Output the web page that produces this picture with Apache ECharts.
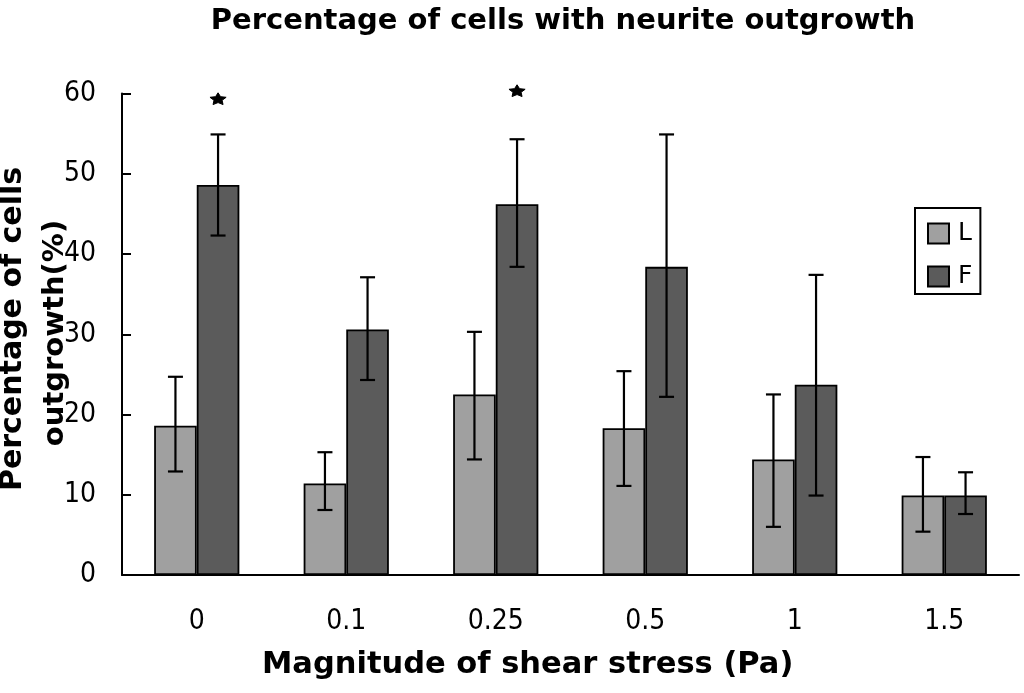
<!DOCTYPE html>
<html>
<head>
<meta charset="utf-8">
<script src="https://cdn.jsdelivr.net/npm/echarts@6/dist/echarts.min.js"></script>
<style>html,body{margin:0;padding:0;background:#fff;}#chart{width:1024px;height:693px;}</style>
</head>
<body>
<div id="chart"></div>
<script>
const categories = ['0', '0.1', '0.25', '0.5', '1', '1.5'];
const lValues = [18.6, 11.4, 22.5, 18.3, 14.4, 9.9];
const lErrTop = [24.7, 15.3, 30.3, 25.4, 22.5, 14.7];
const lErrBottom = [12.9, 8.1, 14.4, 11.1, 6.0, 5.4];
const fValues = [48.6, 30.6, 46.2, 38.4, 23.7, 9.9];
const fErrTop = [54.9, 37.1, 54.3, 54.9, 37.4, 12.8];
const fErrBottom = [42.3, 24.3, 38.4, 22.2, 9.9, 7.6];
const starLevel = [59.4, null, 60.4, null, null, null];
const yTicks = [0, 10, 20, 30, 40, 50, 60];

const GAP = 0.43;
const chart = echarts.init(document.getElementById('chart'));

function errSeries(name, low, high, side) {
  return {
    type: 'custom',
    name: name + '_err',
    silent: true,
    z: 5,
    data: categories.map((c, i) => [i, low[i], high[i]]),
    renderItem: function (params, api) {
      const catW = api.size([1, 0])[0];
      const barW = catW * (1 - GAP) / 2;
      const x = api.coord([api.value(0), 0])[0] + side * barW / 2;
      const yl = api.coord([api.value(0), api.value(1)])[1];
      const yh = api.coord([api.value(0), api.value(2)])[1];
      const cap = 7.5;
      const st = { stroke: '#000', lineWidth: 2.2 };
      return {
        type: 'group',
        children: [
          { type: 'line', shape: { x1: x, y1: yl, x2: x, y2: yh }, style: st },
          { type: 'line', shape: { x1: x - cap, y1: yl, x2: x + cap, y2: yl }, style: st },
          { type: 'line', shape: { x1: x - cap, y1: yh, x2: x + cap, y2: yh }, style: st }
        ]
      };
    }
  };
}

function starPoints(cx, cy, rx, ry, inner) {
  const pts = [];
  for (let k = 0; k < 10; k++) {
    const a = -Math.PI / 2 + k * Math.PI / 5;
    const r = (k % 2 === 0) ? 1 : inner;
    pts.push([cx + rx * r * Math.cos(a), cy + ry * r * Math.sin(a) + 1]);
  }
  return pts;
}

const option = {
  backgroundColor: '#fff',
  animation: false,
  title: {
    text: 'Percentage of cells with neurite outgrowth',
    left: 558, top: 2, textAlign: 'center',
    textStyle: { fontFamily: 'DejaVu Sans', fontWeight: 'bold', fontSize: 29, color: '#000' }
  },
  grid: { left: 122, right: 5, top: 93.5, bottom: 118, containLabel: false },
  legend: {
    data: ['L', 'F'],
    orient: 'vertical',
    left: 915, top: 208,
    icon: 'rect',
    itemWidth: 21, itemHeight: 20, itemGap: 18,
    padding: [13, 8, 5, 12],
    borderColor: '#000', borderWidth: 2,
    itemStyle: { borderColor: '#000', borderWidth: 2 },
    textStyle: { fontFamily: 'DejaVu Sans', fontSize: 25, color: '#000', padding: [0, 0, 0, 4] }
  },
  xAxis: {
    type: 'category',
    data: categories,
    axisLine: { lineStyle: { color: '#000', width: 2 } },
    axisTick: { inside: true, length: 11, interval: 0, lineStyle: { color: '#000', width: 2 } },
    axisLabel: { fontFamily: 'Liberation Sans Narrow, DejaVu Sans Condensed, sans-serif', fontSize: 28, color: '#000', margin: 33, interval: 0 }
  },
  yAxis: {
    type: 'value',
    min: yTicks[0], max: yTicks[yTicks.length - 1], interval: 10,
    splitLine: { show: false },
    axisLine: { show: true, lineStyle: { color: '#000', width: 2 } },
    axisTick: { show: true, inside: true, length: 9, lineStyle: { color: '#000', width: 2 } },
    axisLabel: { fontFamily: 'Liberation Sans Narrow, DejaVu Sans Condensed, sans-serif', fontSize: 28, color: '#000', margin: 26 }
  },
  graphic: [
    {
      type: 'text', left: 262, top: 650,
      style: { text: 'Magnitude of shear stress (Pa)', fontFamily: 'DejaVu Sans', fontWeight: 'bold', fontSize: 30.5, fill: '#000' }
    },
    {
      type: 'text', x: 13, y: 329, rotation: Math.PI / 2,
      style: { text: 'Percentage of cells', fontFamily: 'DejaVu Sans', fontWeight: 'bold', fontSize: 30, fill: '#000', align: 'center', verticalAlign: 'middle' }
    },
    {
      type: 'text', x: 55, y: 333, rotation: Math.PI / 2,
      style: { text: 'outgrowth(%)', fontFamily: 'DejaVu Sans', fontWeight: 'bold', fontSize: 29, fill: '#000', align: 'center', verticalAlign: 'middle' }
    }
  ],
  series: [
    {
      name: 'L', type: 'bar', data: lValues,
      barGap: '0%', barCategoryGap: (GAP * 100) + '%',
      itemStyle: { color: '#a0a0a0', borderColor: '#000', borderWidth: 1.8 }
    },
    {
      name: 'F', type: 'bar', data: fValues,
      itemStyle: { color: '#5b5b5b', borderColor: '#000', borderWidth: 1.8 }
    },
    errSeries('L', lErrBottom, lErrTop, -1),
    errSeries('F', fErrBottom, fErrTop, 1),
    {
      type: 'custom', name: 'stars', silent: true, z: 6,
      data: categories.map((c, i) => [i, starLevel[i]]).filter(d => d[1] !== null),
      renderItem: function (params, api) {
        const catW = api.size([1, 0])[0];
        const barW = catW * (1 - GAP) / 2;
        const p = api.coord([api.value(0), api.value(1)]);
        return {
          type: 'polygon',
          shape: { points: starPoints(p[0] + barW / 2, p[1], 8.5, 6.5, 0.5) },
          style: { fill: '#000', stroke: '#000', lineWidth: 1 }
        };
      }
    }
  ]
};
chart.setOption(option);
</script>
</body>
</html>
